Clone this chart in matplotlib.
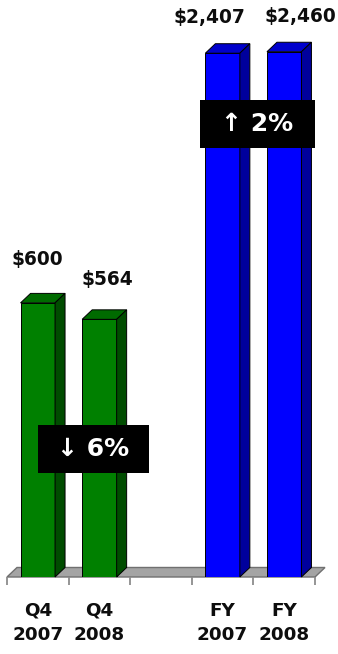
"""
Q4 / full-year comparison, drawn as pseudo-3D bars on a grey floor.
Writes out.png (338x654 px).
"""

import matplotlib
matplotlib.use("Agg")
import matplotlib.pyplot as plt
from matplotlib.patches import Polygon, Rectangle
import numpy as np

# ── data ──────────────────────────────────────────────────────────────────────
q4_labels = ["Q4\n2007", "Q4\n2008"]
q4_values = [600, 564]
fy_labels = ["FY\n2007", "FY\n2008"]
fy_values = [2407, 2460]
q4_change = "↓ 6%"
fy_change = "↑ 2%"

# ── style ─────────────────────────────────────────────────────────────────────
GREEN = {"front": "#008000", "top": "#006b00", "side": "#004c00"}
BLUE = {"front": "#0000ff", "top": "#0000cc", "side": "#00009c"}
FLOOR = "#a4a4a4"
FLOOR_EDGE = "#707070"
TICK = "#8c8c8c"
TEXT = "#0d0d0d"
FONT = "DejaVu Sans"

W, H, DPI = 338, 654, 100
DEPTH = (10, 9.5)          # 3D offset in pixels (right, up)
BAR_W = 0.56

plt.rcParams.update({"font.family": FONT})

fig = plt.figure(figsize=(W / DPI, H / DPI), dpi=DPI)
ax_q4 = fig.add_axes([7 / W, 77 / H, 308 / W, 577 / H])
ax_fy = ax_q4.twinx()

categories = q4_labels + [""] + fy_labels
x_all = np.arange(len(categories)) + 0.5
q4_x = x_all[:2]
fy_x = x_all[3:]

ax_q4.set_xlim(0, len(categories))
ax_q4.set_ylim(0, 1263)
ax_fy.set_yscale("log")
ax_fy.set_ylim(1, 5309)

for ax in (ax_q4, ax_fy):
    for s in ax.spines.values():
        s.set_visible(False)
    ax.set_yticks([])
    ax.yaxis.set_minor_locator(matplotlib.ticker.NullLocator())
    ax.patch.set_visible(False)


def to_fig(ax, pts, dx=0.0, dy=0.0):
    """data points -> figure fraction, with a pixel offset."""
    disp = ax.transData.transform(pts)
    scale = fig.dpi / DPI
    disp = disp + np.array([dx * scale, dy * scale])
    return fig.transFigure.inverted().transform(disp)


def face(ax, pts, offs, color, z):
    verts = [to_fig(ax, [p], *o)[0] for p, o in zip(pts, offs)]
    ax.add_patch(Polygon(verts, closed=True, transform=fig.transFigure,
                         facecolor=color, edgecolor="black", lw=0.7,
                         clip_on=False, zorder=z))


# floor
d = DEPTH
floor_pts = [(0, 0), (len(categories), 0), (len(categories), 0), (0, 0)]
floor_offs = [(0, 0), (0, 0), d, d]
verts = [to_fig(ax_q4, [p], *o)[0] for p, o in zip(floor_pts, floor_offs)]
ax_q4.add_patch(Polygon(verts, closed=True, transform=fig.transFigure,
                        facecolor=FLOOR, edgecolor=FLOOR_EDGE, lw=1.0,
                        clip_on=False, zorder=1))


def bars3d(ax, xs, vals, bottom, colors):
    ax.bar(xs, [v - bottom for v in vals], bottom=bottom, width=BAR_W,
           color=colors["front"], edgecolor="black", lw=0.7, zorder=3)
    for x, v in zip(xs, vals):
        l, r = x - BAR_W / 2, x + BAR_W / 2
        # top face
        face(ax, [(l, v), (r, v), (r, v), (l, v)],
             [(0, 0), (0, 0), d, d], colors["top"], 3)
        # side face
        face(ax, [(r, v), (r, bottom), (r, bottom), (r, v)],
             [(0, 0), (0, 0), d, d], colors["side"], 3)


bars3d(ax_q4, q4_x, q4_values, 0, GREEN)
bars3d(ax_fy, fy_x, fy_values, 1, BLUE)

# value labels (offsets in px: right, up from the bar's front top)
label_offs = [(-0.5, 43), (8, 40), (-13.5, 36), (16.5, 35)]
for ax, xs, vals, offs in ((ax_q4, q4_x, q4_values, label_offs[:2]),
                           (ax_fy, fy_x, fy_values, label_offs[2:])):
    for x, v, (ox, oy) in zip(xs, vals, offs):
        ax.annotate(f"${v:,}", xy=(x, v), xytext=(ox * 0.72, oy * 0.72),
                    textcoords="offset points", ha="center", va="center",
                    fontsize=13.4, fontweight="bold", color=TEXT,
                    annotation_clip=False)

# ticks on the floor edge and category labels
ax_q4.set_xticks(np.arange(len(categories) + 1))
ax_q4.tick_params(axis="x", which="major", length=5.8, width=1.3,
                  color=TICK, labelbottom=False)
ax_q4.set_xticks(x_all, categories, minor=True)
ax_q4.tick_params(axis="x", which="minor", length=0, pad=18)
for t in ax_q4.get_xticklabels(minor=True):
    t.set_fontsize(13.2)
    t.set_fontweight("bold")
    t.set_color(TEXT)
    t.set_linespacing(1.4)
ax_fy.tick_params(axis="x", which="both", bottom=False, labelbottom=False)

# change boxes (pixel rectangles: x0, y0 from top, w, h)
for ax, text, (bx, by, bw, bh) in ((ax_q4, q4_change, (38, 425, 111, 48)),
                                   (ax_fy, fy_change, (200, 100, 115, 48))):
    ax.add_patch(Rectangle((bx / W, 1 - (by + bh) / H), bw / W, bh / H,
                           transform=fig.transFigure, facecolor="black",
                           edgecolor="none", clip_on=False, zorder=5))
    ax.text((bx + bw / 2) / W, 1 - (by + bh / 2) / H, text,
            transform=fig.transFigure, ha="center", va="center",
            fontsize=18, fontweight="bold", color="white", zorder=6)

fig.savefig("out.png", dpi=DPI)
plt.close(fig)
print("Saved: out.png")
